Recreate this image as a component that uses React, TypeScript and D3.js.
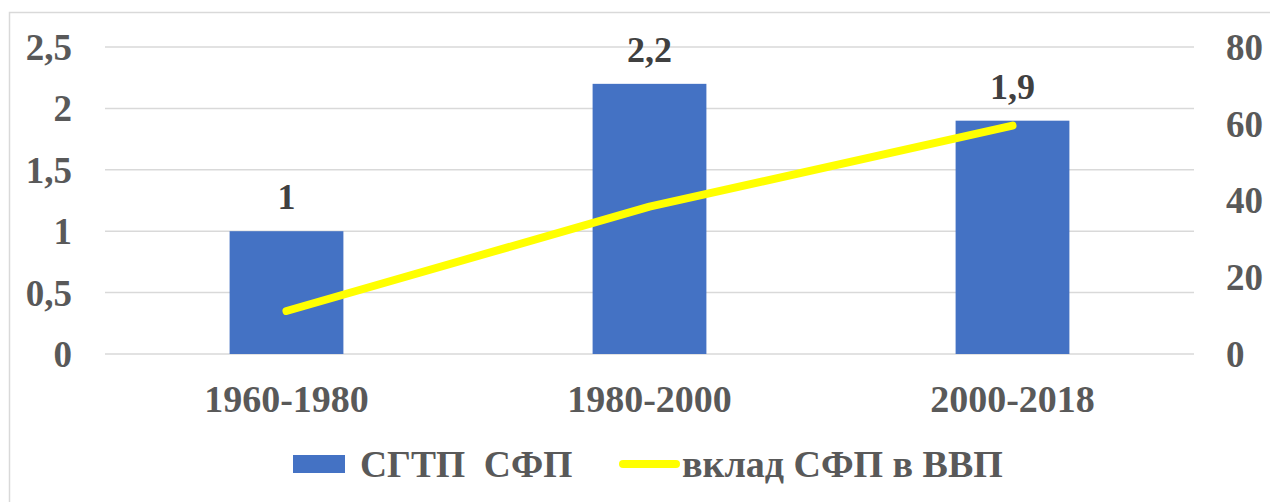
import * as d3 from 'd3';
import React, { useRef, useEffect } from 'react';

const categories = ['1960-1980', '1980-2000', '2000-2018'];
const barValues = [1, 2.2, 1.9];
const lineValues = [11.2, 38.4, 59.5];
const leftTicks = [0, 0.5, 1, 1.5, 2, 2.5];
const rightTicks = [0, 20, 40, 60, 80];
const barName = 'СГТП\u00a0\u00a0СФП';
const lineName = 'вклад СФП в ВВП';

const W = 1270;
const H = 502;
const FONT = '"Liberation Serif", "Times New Roman", serif';

export default function App() {
    const ref = useRef(null);

    useEffect(() => {
        const svg = d3.select(ref.current);
        svg.selectAll('*').remove();

        const left = 105, right = 1194, top = 47, bottom = 354;
        const x = d3.scaleBand().domain(categories).range([left, right]).padding(0);
        const yL = d3.scaleLinear().domain([0, 2.5]).range([bottom, top]);
        const yR = d3.scaleLinear().domain([0, 80]).range([bottom, top]);
        const fmt = (v) => String(v).replace('.', ',');

        // chart frame
        svg.append('rect')
            .attr('x', 9.5).attr('y', 12.5)
            .attr('width', W).attr('height', H)
            .attr('fill', 'none')
            .attr('stroke', '#d9d9d9')
            .attr('stroke-width', 1.5);

        // gridlines
        svg.append('g').selectAll('line').data(leftTicks).enter().append('line')
            .attr('x1', left).attr('x2', right)
            .attr('y1', d => yL(d)).attr('y2', d => yL(d))
            .attr('stroke', '#d9d9d9')
            .attr('stroke-width', 1.5);

        // left axis labels
        svg.append('g').selectAll('text').data(leftTicks).enter().append('text')
            .attr('x', 72).attr('y', d => yL(d))
            .attr('dy', '0.35em')
            .attr('text-anchor', 'end')
            .attr('font-family', FONT).attr('font-weight', 'bold').attr('font-size', 37)
            .attr('fill', '#595959')
            .text(d => fmt(d));

        // right axis labels
        svg.append('g').selectAll('text').data(rightTicks).enter().append('text')
            .attr('x', 1226).attr('y', d => yR(d))
            .attr('dy', '0.35em')
            .attr('text-anchor', 'start')
            .attr('font-family', FONT).attr('font-weight', 'bold').attr('font-size', 37)
            .attr('fill', '#595959')
            .text(d => d);

        // bars
        const bw = x.bandwidth() / 3.19;
        svg.append('g').selectAll('rect').data(barValues).enter().append('rect')
            .attr('x', (d, i) => x(categories[i]) + x.bandwidth() / 2 - bw / 2)
            .attr('y', d => yL(d))
            .attr('width', bw)
            .attr('height', d => bottom - yL(d))
            .attr('fill', '#4472c4');

        // bar labels
        svg.append('g').selectAll('text').data(barValues).enter().append('text')
            .attr('x', (d, i) => x(categories[i]) + x.bandwidth() / 2)
            .attr('y', d => yL(d) - 22)
            .attr('text-anchor', 'middle')
            .attr('font-family', FONT).attr('font-weight', 'bold').attr('font-size', 36)
            .attr('fill', '#404040')
            .text(d => fmt(d));

        // line
        const line = d3.line()
            .x((d, i) => x(categories[i]) + x.bandwidth() / 2)
            .y(d => yR(d));
        svg.append('path')
            .datum(lineValues)
            .attr('d', line)
            .attr('fill', 'none')
            .attr('stroke', '#ffff00')
            .attr('stroke-width', 8)
            .attr('stroke-linecap', 'round')
            .attr('stroke-linejoin', 'round');

        // category labels
        svg.append('g').selectAll('text').data(categories).enter().append('text')
            .attr('x', d => x(d) + x.bandwidth() / 2)
            .attr('y', 412)
            .attr('text-anchor', 'middle')
            .attr('font-family', FONT).attr('font-weight', 'bold').attr('font-size', 38)
            .attr('fill', '#595959')
            .text(d => d);

        // legend
        const lg = svg.append('g');
        lg.append('rect')
            .attr('x', 293).attr('y', 455).attr('width', 52).attr('height', 18)
            .attr('fill', '#4472c4');
        lg.append('text')
            .attr('x', 360).attr('y', 477)
            .attr('font-family', FONT).attr('font-weight', 'bold').attr('font-size', 37.5)
            .attr('fill', '#595959')
            .text(barName);
        lg.append('line')
            .attr('x1', 623).attr('x2', 676).attr('y1', 464).attr('y2', 464)
            .attr('stroke', '#ffff00').attr('stroke-width', 8)
            .attr('stroke-linecap', 'round');
        lg.append('text')
            .attr('x', 682).attr('y', 477)
            .attr('font-family', FONT).attr('font-weight', 'bold').attr('font-size', 38)
            .attr('fill', '#595959')
            .text(lineName);
    }, []);

    return (
        <svg ref={ref} width={W} height={H}
            style={{ position: 'absolute', left: 0, top: 0, background: '#fff' }} />
    );
}
